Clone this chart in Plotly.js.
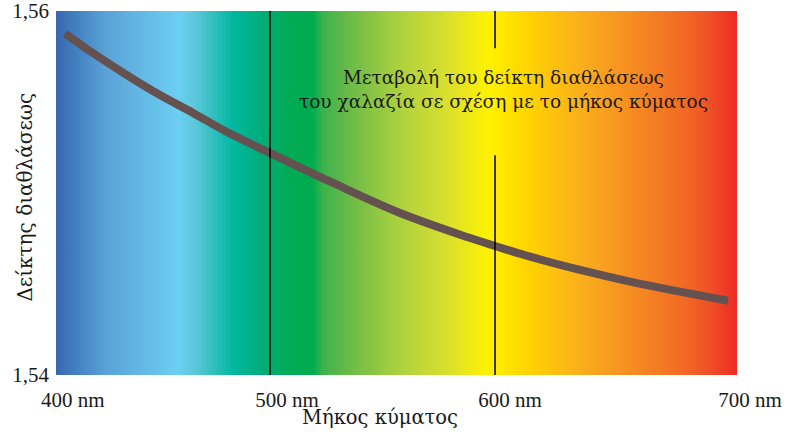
<!DOCTYPE html>
<html>
<head>
<meta charset="utf-8">
<script src="https://cdn.plot.ly/plotly-3.0.1.min.js"></script>
<style>html,body{margin:0;padding:0;background:#fff;}#chart{width:787px;height:440px;}</style>
</head>
<body>
<div id="chart"></div>
<script>
// Data
const wavelength = [408.9, 421.3, 436.4, 451.1, 465.8, 480.9, 500, 528, 557.8, 587.6, 600, 615.6, 637.8, 660, 682.2, 703.6];
const refractiveIndex = [1.55877, 1.55769, 1.55648, 1.55538, 1.55440, 1.55335, 1.55220, 1.55055, 1.54890, 1.54758, 1.54709, 1.54650, 1.54577, 1.54513, 1.54458, 1.54408];
const markerWavelengths = [500, 600];
const tickLabels = ["400 nm", "500 nm", "600 nm", "700 nm"];
const tickLabelAt = [412.4, 507.6, 606.7, 713.3];
const yTickVals = [1.54, 1.56];
const yTickText = ["1,54", "1,56"];
const spectrumRange = [404.89, 707.56];
const axisRange = [404.89, 722.2];
const nRange = [1.54, 1.56];
const spectrumStops = [0, 0.029, 0.073, 0.181, 0.206, 0.260, 0.304, 0.342, 0.377, 0.392, 0.432, 0.499, 0.573, 0.636, 0.686, 0.768, 0.852, 0.921, 0.960, 1];
const spectrumColors = ["#3a66b0", "#4280c0", "#5aa2d8", "#6ccff2", "#5ac6d8", "#00b8a0", "#00ad78", "#00ab55", "#00ac4f", "#3db24d", "#6cbb47", "#a8d040", "#d9df2e", "#fff200", "#ffd700", "#fbb01c", "#f58a22", "#f26a25", "#ef5027", "#ee2a24"];

const bg = {
  x: [spectrumRange[0], spectrumRange[1], spectrumRange[1], spectrumRange[0], spectrumRange[0]],
  y: [nRange[0], nRange[0], nRange[1], nRange[1], nRange[0]],
  mode: "none",
  fill: "toself",
  fillgradient: {
    type: "horizontal",
    colorscale: spectrumStops.map((s, i) => [s, spectrumColors[i]]),
    start: spectrumRange[0],
    stop: spectrumRange[1]
  },
  hoverinfo: "skip",
  showlegend: false
};

const curve = {
  x: wavelength,
  y: refractiveIndex,
  mode: "lines",
  line: {color: "#655150", width: 8, shape: "spline"},
  showlegend: false
};

const shapes = [
  {type: "line", xref: "x", yref: "paper", x0: markerWavelengths[0], x1: markerWavelengths[0], y0: 0, y1: 1, line: {color: "#000", width: 1.5}},
  {type: "line", xref: "x", yref: "paper", x0: markerWavelengths[1], x1: markerWavelengths[1], y0: 0, y1: 0.604, line: {color: "#000", width: 1.5}},
  {type: "line", xref: "x", yref: "paper", x0: markerWavelengths[1], x1: markerWavelengths[1], y0: 0.898, y1: 1, line: {color: "#000", width: 1.5}}
];

const font = "Liberation Serif, DejaVu Serif, serif";
const greekFont = "DejaVu Serif, Liberation Serif, serif";

const layout = {
  width: 787, height: 440,
  margin: {l: 56, r: 17, t: 11, b: 65, pad: 0},
  paper_bgcolor: "#fff", plot_bgcolor: "#fff",
  font: {family: font, color: "#1a1a1a", size: 20},
  xaxis: {range: axisRange, showgrid: false, zeroline: false, showline: false, ticks: "",
          tickvals: tickLabelAt, ticktext: tickLabels, tickfont: {size: 21, family: font, color: "#1a1a1a"},
          ticklabelstandoff: 10, fixedrange: true},
  yaxis: {range: nRange, showgrid: false, zeroline: false, showline: false, ticks: "",
          tickvals: yTickVals, ticktext: yTickText, tickfont: {size: 21, family: font, color: "#1a1a1a"},
          ticklabelstandoff: 6, ticklabeloverflow: "allow", fixedrange: true},
  shapes: shapes,
  annotations: [
    {xref: "paper", yref: "paper", x: 0.627, y: 0.783, xanchor: "center", yanchor: "middle", showarrow: false,
     text: "Μεταβολή του δείκτη διαθλάσεως<br>του χαλαζία σε σχέση με το μήκος κύματος", font: {size: 18.5, family: greekFont, color: "#1a1a1a"}},
    {xref: "paper", yref: "paper", x: -0.044, y: 0.489, xanchor: "center", yanchor: "middle", showarrow: false, textangle: -90,
     text: "Δείκτης διαθλάσεως", font: {size: 20, family: greekFont, color: "#1a1a1a"}},
    {xref: "paper", yref: "paper", x: 0.454, y: -0.118, xanchor: "center", yanchor: "middle", showarrow: false,
     text: "Μήκος κύματος", font: {size: 19.5, family: greekFont, color: "#1a1a1a"}}
  ],
  showlegend: false
};

Plotly.newPlot("chart", [bg, curve], layout, {displayModeBar: false, staticPlot: true});
</script>
</body>
</html>
